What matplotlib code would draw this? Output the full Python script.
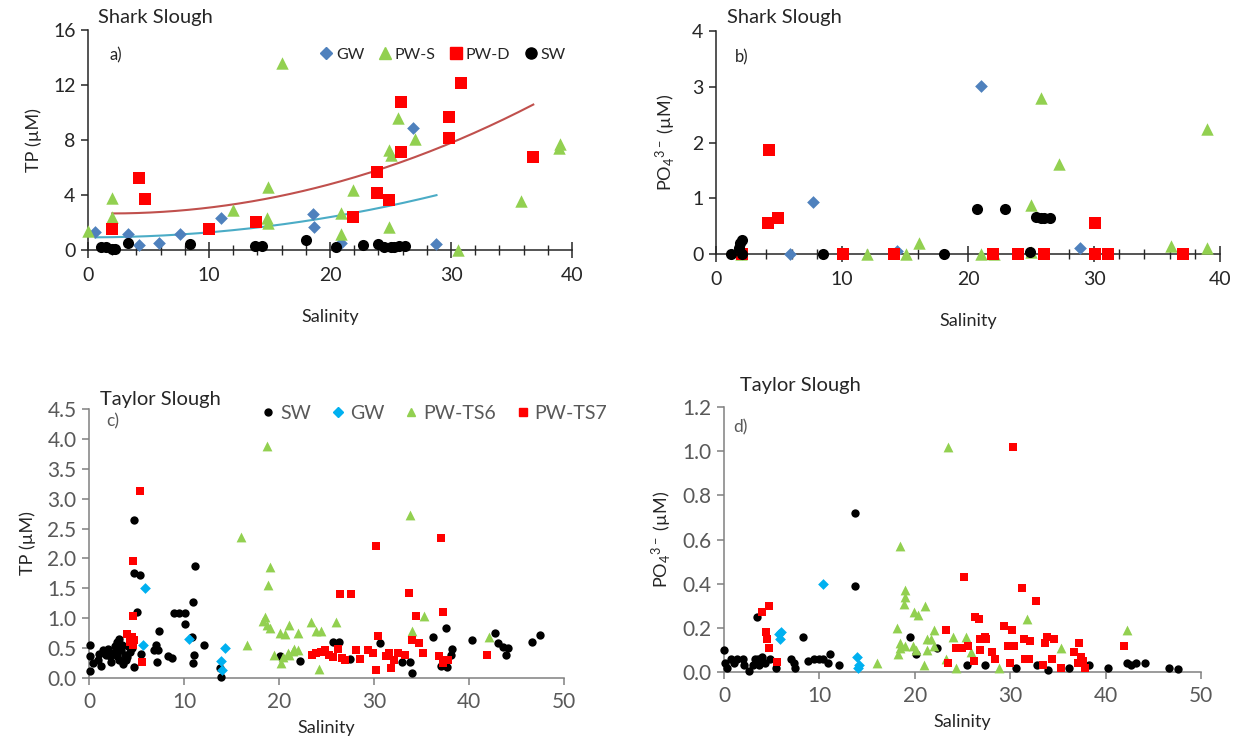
import numpy as np
import matplotlib
matplotlib.use("Agg")
import matplotlib.pyplot as plt
from matplotlib.ticker import MultipleLocator, FormatStrFormatter
from matplotlib.lines import Line2D

plt.rcParams['font.family'] = ['Lato', 'DejaVu Sans']
plt.rcParams['mathtext.default'] = 'regular'

# ---------------- Panel a: Shark Slough TP ----------------
a_gw_x = [0.6, 3.3, 4.2, 5.9, 7.6, 11.0, 18.6, 18.7, 20.9, 26.9, 28.8]
a_gw_y = [1.33, 1.14, 0.36, 0.48, 1.2, 2.35, 2.6, 1.7, 0.48, 8.85, 0.41]
a_pws_x = [0.0, 2.0, 2.0, 12.0, 14.9, 14.8, 14.9, 16.0, 20.9, 20.9, 21.9, 24.9, 24.9, 25.0, 25.6, 27.0, 30.6, 35.8, 38.9, 39.0]
a_pws_y = [1.4, 3.76, 2.4, 2.9, 4.6, 2.3, 1.95, 13.6, 2.67, 1.2, 4.4, 1.7, 7.27, 6.9, 9.58, 8.1, 0.0, 3.6, 7.4, 7.7]
a_pwd_x = [2.0, 4.2, 4.75, 10.0, 13.9, 21.9, 23.9, 23.9, 24.9, 25.9, 25.9, 29.8, 29.8, 30.85, 36.8]
a_pwd_y = [1.5, 5.26, 3.7, 1.5, 2.06, 2.38, 5.7, 4.17, 3.64, 7.15, 10.8, 9.65, 8.17, 12.12, 6.8]
a_sw_x = [1.1, 1.5, 2.0, 2.2, 3.3, 8.4, 13.8, 14.4, 18.0, 20.5, 22.7, 24.0, 24.5, 25.0, 25.3, 25.7, 26.2]
a_sw_y = [0.24, 0.2, 0.1, 0.1, 0.5, 0.41, 0.32, 0.32, 0.73, 0.24, 0.36, 0.41, 0.24, 0.2, 0.24, 0.32, 0.3]

# ---------------- Panel b: Shark Slough PO4 ----------------
b_gw_x = [5.9, 7.7, 14.4, 21.0, 28.9]
b_gw_y = [0.0, 0.93, 0.05, 3.01, 0.1]
b_pws_x = [2.0, 12.0, 15.1, 16.1, 21.0, 22.1, 25.0, 25.0, 25.8, 27.2, 36.1, 39.0, 39.0]
b_pws_y = [0.0, 0.0, 0.0, 0.19, 0.0, 0.0, 0.87, 0.04, 2.79, 1.62, 0.14, 2.25, 0.1]
b_pwd_x = [2.1, 4.1, 4.2, 4.9, 10.1, 14.1, 22.0, 24.0, 26.0, 30.1, 30.1, 31.1, 37.1]
b_pwd_y = [0.0, 0.56, 1.86, 0.64, 0.0, 0.0, 0.0, 0.0, 0.0, 0.56, 0.0, 0.0, 0.0]
b_sw_x = [1.2, 1.8, 1.9, 2.1, 2.1, 8.5, 18.1, 20.7, 22.9, 24.9, 25.4, 25.8, 26.0, 26.5]
b_sw_y = [0.0, 0.1, 0.19, 0.26, 0.0, 0.0, 0.0, 0.8, 0.8, 0.03, 0.67, 0.64, 0.64, 0.64]

# ---------------- Panel c: Taylor Slough TP ----------------
c_sw_x = [0.14, 0.14, 0.14, 0.4, 0.95, 1.0, 1.3, 1.5, 1.8, 2.0, 2.2, 2.35, 2.5, 2.7, 2.9, 2.95, 3.0,
          3.2, 3.2, 3.4, 3.5, 3.6, 3.75, 3.9, 4.0, 4.1, 4.3, 4.5, 4.7, 4.7, 4.7, 5.4, 5.0, 5.5, 6.8,
          7.1, 7.2, 7.4, 7.3, 8.3, 8.7, 8.9, 9.5, 10.1, 10.1, 10.8, 10.9, 11.2, 11.1, 10.9, 12.1,
          13.8, 13.9, 20.1, 22.2, 25.7, 26.3, 27.5, 30.6, 32.9, 33.8, 34.0, 36.2, 37.6, 38.2, 38.1,
          37.1, 37.7, 40.3, 42.7, 43.1, 43.6, 44.1, 43.9, 46.6, 47.5]
c_sw_y = [0.56, 0.36, 0.11, 0.25, 0.30, 0.40, 0.20, 0.47, 0.38, 0.48, 0.36, 0.27, 0.41, 0.53, 0.36, 0.61, 0.45,
          0.65, 0.30, 0.47, 0.55, 0.23, 0.39, 0.30, 0.35, 0.53, 0.44, 0.50, 0.18, 2.65, 1.75, 1.72, 1.10, 0.40, 0.47,
          0.55, 0.27, 0.78, 0.47, 0.37, 0.34, 1.08, 1.08, 1.08, 0.90, 0.69, 1.27, 1.87, 0.39, 0.25, 0.56,
          0.16, 0.02, 0.37, 0.29, 0.61, 0.61, 0.31, 0.59, 0.27, 0.26, 0.08, 0.68, 0.83, 0.48, 0.39,
          0.20, 0.19, 0.64, 0.75, 0.58, 0.52, 0.50, 0.39, 0.60, 0.72]
c_gw_x = [5.86, 5.7, 10.5, 14.3, 13.9, 14.0]
c_gw_y = [1.50, 0.55, 0.66, 0.50, 0.29, 0.13]
c_ts6_x = [18.7, 16.0, 19.0, 18.8, 18.5, 18.3, 18.7, 19.1, 16.6, 20.1, 20.6, 21.1, 20.4, 20.2, 20.9,
           21.5, 22.0, 23.4, 23.9, 24.4, 26.0, 21.1, 21.6, 22.0, 24.2, 35.3, 34.0, 42.1, 33.8, 19.5]
c_ts6_y = [3.88, 2.36, 1.85, 1.55, 1.02, 0.96, 0.88, 0.84, 0.55, 0.75, 0.74, 0.88, 0.35, 0.25, 0.41,
           0.46, 0.75, 0.93, 0.79, 0.79, 0.94, 0.39, 0.48, 0.47, 0.15, 1.03, 0.79, 0.69, 2.73, 0.39]
c_ts7_x = [5.4, 4.6, 4.6, 4.0, 4.5, 4.7, 4.6, 5.6, 4.3, 26.4, 27.6, 33.7, 34.4, 37.3, 30.25, 37.1, 30.4,
           23.5, 23.9, 24.4, 24.8, 25.3, 25.7, 26.2, 26.6, 26.9, 28.1, 28.5, 29.4, 29.9, 30.2, 31.3, 31.6,
           32.1, 32.5, 31.8, 33.3, 34.0, 34.7, 35.2, 36.8, 37.3, 37.8, 37.3, 41.9]
c_ts7_y = [3.12, 1.03, 1.95, 0.74, 0.68, 0.64, 0.55, 0.27, 0.61, 1.40, 1.40, 1.43, 1.03, 1.10, 2.21, 2.34, 0.70,
           0.39, 0.41, 0.44, 0.47, 0.39, 0.35, 0.48, 0.33, 0.30, 0.47, 0.31, 0.47, 0.41, 0.13, 0.36, 0.41,
           0.30, 0.41, 0.16, 0.39, 0.63, 0.59, 0.42, 0.36, 0.30, 0.30, 0.25, 0.39]

# ---------------- Panel d: Taylor Slough PO4 ----------------
d_sw_x = [0.04, 0.1, 0.3, 0.74, 1.1, 1.4, 2.0, 2.1, 2.6, 3.0, 3.2, 3.6, 3.7, 4.0, 4.3, 3.5, 4.8, 5.4,
          7.0, 7.3, 7.4, 8.3, 8.8, 9.4, 10.0, 10.4, 10.95, 11.1, 12.1, 13.7, 13.7, 19.5, 20.1, 22.3,
          25.5, 27.4, 30.6, 32.8, 34.0, 36.2, 38.3, 40.2, 42.2, 42.7, 43.2, 44.1, 46.6, 47.6]
d_sw_y = [0.10, 0.04, 0.02, 0.06, 0.04, 0.06, 0.06, 0.03, 0.005, 0.03, 0.06, 0.06, 0.03, 0.07, 0.04, 0.25, 0.06, 0.02,
          0.06, 0.04, 0.02, 0.16, 0.05, 0.06, 0.06, 0.06, 0.04, 0.08, 0.03, 0.72, 0.39, 0.16, 0.08, 0.11,
          0.03, 0.03, 0.02, 0.03, 0.01, 0.02, 0.03, 0.02, 0.04, 0.03, 0.04, 0.04, 0.02, 0.015]
d_gw_x = [10.4, 5.8, 5.85, 5.95, 13.9, 14.1, 14.0]
d_gw_y = [0.40, 0.17, 0.15, 0.18, 0.07, 0.03, 0.02]
d_ts6_x = [23.5, 18.4, 19.0, 19.0, 18.9, 18.1, 19.9, 21.1, 20.3, 18.5, 19.0, 18.2, 18.4, 19.8, 20.1, 21.3,
           22.0, 16.0, 21.0, 22.0, 21.3, 24.0, 25.4, 31.8, 35.3, 42.2, 21.7, 23.3, 24.3, 28.8, 25.9]
d_ts6_y = [1.02, 0.57, 0.37, 0.34, 0.31, 0.20, 0.27, 0.30, 0.26, 0.13, 0.12, 0.08, 0.11, 0.12, 0.10, 0.15,
           0.19, 0.04, 0.03, 0.12, 0.10, 0.16, 0.16, 0.24, 0.11, 0.19, 0.15, 0.06, 0.02, 0.02, 0.09]
d_ts7_x = [4.7, 4.0, 4.4, 4.5, 4.7, 5.6, 30.3, 25.2, 31.2, 32.7, 26.3, 26.7, 23.3, 29.4, 30.2, 24.3, 24.9,
           25.6, 26.8, 27.5, 26.8, 27.4, 28.1, 28.4, 29.8, 30.4, 31.4, 32.1, 33.9, 34.6, 33.7, 37.2, 36.7,
           37.4, 37.6, 37.8, 37.1, 34.4, 35.3, 33.4, 31.6, 32.0, 30.0, 26.2, 23.5, 41.9]
d_ts7_y = [0.30, 0.27, 0.18, 0.15, 0.11, 0.045, 1.02, 0.43, 0.38, 0.32, 0.25, 0.24, 0.19, 0.21, 0.19, 0.11, 0.11,
           0.12, 0.15, 0.15, 0.10, 0.16, 0.09, 0.06, 0.12, 0.12, 0.15, 0.14, 0.16, 0.15, 0.13, 0.13, 0.09,
           0.07, 0.05, 0.02, 0.04, 0.06, 0.02, 0.03, 0.06, 0.06, 0.04, 0.05, 0.04, 0.12]

# ---------------- styling ----------------
C_GW = '#4F81BD'
C_GW2 = '#00B0F0'
C_PWS = '#92D050'
C_PWD = '#FF0000'
C_SW = '#000000'
C_TREND_R = '#C0504D'
C_TREND_B = '#4BACC6'
GREY = '#595959'
DARK = '#262626'

W, H = 1239, 742
fig = plt.figure(figsize=(W / 100, H / 100), dpi=100)


def rect(l, r, t, b):
    return [l / W, 1 - b / H, (r - l) / W, (b - t) / H]


def ftext(x, y, s, **kw):
    fig.text(x / W, 1 - y / H, s, **kw)


def style_axes(ax, col, tick_col, fs, crossing):
    for sp in ['top', 'right']:
        ax.spines[sp].set_visible(False)
    for sp in ['left', 'bottom']:
        ax.spines[sp].set_color(col)
        ax.spines[sp].set_linewidth(1.1)
    ax.tick_params(axis='y', direction='out', length=5, width=1.1, color=col,
                   labelcolor=tick_col, labelsize=fs, pad=4)
    if crossing:
        ax.tick_params(axis='x', which='major', direction='inout', length=12, width=1.1,
                       color=col, labelcolor=tick_col, labelsize=fs, pad=6)
        ax.tick_params(axis='x', which='minor', direction='inout', length=7, width=1.0, color=col)
    else:
        ax.tick_params(axis='x', which='major', direction='out', length=5, width=1.1,
                       color=col, labelcolor=tick_col, labelsize=fs, pad=5)


# ---------- Panel a ----------
ax = fig.add_axes(rect(88, 572, 30, 250))
ax.set_xlim(0, 40)
ax.set_ylim(0, 16)
ax.xaxis.set_major_locator(MultipleLocator(10))
ax.xaxis.set_minor_locator(MultipleLocator(2))
ax.yaxis.set_major_locator(MultipleLocator(4))
style_axes(ax, DARK, DARK, 14, True)
# 2nd-order polynomial trend lines (Excel style) fitted to the GW and PW-D series
cb = np.polyfit(a_gw_x, a_gw_y, 2)
xx = np.linspace(min(a_gw_x), max(a_gw_x), 200)
ax.plot(xx, np.polyval(cb, xx), color=C_TREND_B, lw=1.5, zorder=2)
cr = np.polyfit(a_pwd_x, a_pwd_y, 2)
xx = np.linspace(min(a_pwd_x), max(a_pwd_x), 200)
ax.plot(xx, np.polyval(cr, xx), color=C_TREND_R, lw=1.5, zorder=2)
ax.scatter(a_gw_x, a_gw_y, marker='D', s=42, color=C_GW, lw=0, clip_on=False, zorder=3)
ax.scatter(a_pws_x, a_pws_y, marker='^', s=80, color=C_PWS, lw=0, clip_on=False, zorder=3)
ax.scatter(a_pwd_x, a_pwd_y, marker='s', s=64, color=C_PWD, lw=0, clip_on=False, zorder=4)
ax.scatter(a_sw_x, a_sw_y, marker='o', s=64, color=C_SW, lw=0, clip_on=False, zorder=5)
handles = [Line2D([], [], ls='', marker='D', ms=6, color=C_GW),
           Line2D([], [], ls='', marker='^', ms=9, color=C_PWS),
           Line2D([], [], ls='', marker='s', ms=8, color=C_PWD),
           Line2D([], [], ls='', marker='o', ms=8, color=C_SW)]
ax.legend(handles, ['GW', 'PW-S', 'PW-D', 'SW'], ncol=4, frameon=False,
          loc='center', bbox_to_anchor=((442 - 88) / 484, (250 - 55) / 220),
          handletextpad=0.1, columnspacing=0.8, handlelength=1.0, fontsize=11.5,
          labelcolor=DARK)
ax.text((110 - 88) / 484, (250 - 55) / 220, 'a)', transform=ax.transAxes,
        fontsize=12, color=DARK, va='center', ha='left')
ax.set_xlabel('Salinity', fontsize=13, color=DARK, labelpad=18)
ax.set_ylabel('TP (µM)', fontsize=13, color=DARK, labelpad=8)
ftext(98, 17, 'Shark Slough', fontsize=14.5, color=DARK, va='center', ha='left')

# ---------- Panel b ----------
ax = fig.add_axes(rect(716, 1220, 31, 254))
ax.set_xlim(0, 40)
ax.set_ylim(0, 4)
ax.xaxis.set_major_locator(MultipleLocator(10))
ax.xaxis.set_minor_locator(MultipleLocator(2))
ax.yaxis.set_major_locator(MultipleLocator(1))
style_axes(ax, DARK, DARK, 14, True)
ax.scatter(b_gw_x, b_gw_y, marker='D', s=42, color=C_GW, lw=0, clip_on=False, zorder=3)
ax.scatter(b_pws_x, b_pws_y, marker='^', s=80, color=C_PWS, lw=0, clip_on=False, zorder=3)
ax.scatter(b_pwd_x, b_pwd_y, marker='s', s=64, color=C_PWD, lw=0, clip_on=False, zorder=4)
ax.scatter(b_sw_x, b_sw_y, marker='o', s=64, color=C_SW, lw=0, clip_on=False, zorder=5)
ax.text((735 - 716) / 504, (254 - 57) / 223, 'b)', transform=ax.transAxes,
        fontsize=12, color=DARK, va='center', ha='left')
ax.set_xlabel('Salinity', fontsize=13, color=DARK, labelpad=18)
ax.set_ylabel('PO$_4$$^{3-}$ (µM)', fontsize=13, color=DARK, labelpad=10)
ftext(727, 17, 'Shark Slough', fontsize=14.5, color=DARK, va='center', ha='left')

# ---------- Panel c ----------
ax = fig.add_axes(rect(89, 564, 409, 678))
ax.set_xlim(0, 50)
ax.set_ylim(0, 4.5)
ax.xaxis.set_major_locator(MultipleLocator(10))
ax.yaxis.set_major_locator(MultipleLocator(0.5))
ax.yaxis.set_major_formatter(FormatStrFormatter('%.1f'))
style_axes(ax, '#808080', GREY, 15, False)
ax.scatter(c_sw_x, c_sw_y, marker='o', s=36, color=C_SW, lw=0, clip_on=False, zorder=3)
ax.scatter(c_gw_x, c_gw_y, marker='D', s=30, color=C_GW2, lw=0, clip_on=False, zorder=4)
ax.scatter(c_ts6_x, c_ts6_y, marker='^', s=50, color=C_PWS, lw=0, clip_on=False, zorder=3)
ax.scatter(c_ts7_x, c_ts7_y, marker='s', s=40, color=C_PWD, lw=0, clip_on=False, zorder=4)
handles = [Line2D([], [], ls='', marker='o', ms=5, color=C_SW),
           Line2D([], [], ls='', marker='D', ms=5, color=C_GW2),
           Line2D([], [], ls='', marker='^', ms=6, color=C_PWS),
           Line2D([], [], ls='', marker='s', ms=5.5, color=C_PWD)]
ax.legend(handles, ['SW', 'GW', 'PW-TS6', 'PW-TS7'], ncol=4, frameon=False,
          loc='center', bbox_to_anchor=((433 - 89) / 475, (678 - 413) / 269),
          handletextpad=0.1, columnspacing=0.9, handlelength=1.0, fontsize=14,
          labelcolor=GREY)
ax.text((106 - 89) / 475, (678 - 421) / 269, 'c)', transform=ax.transAxes,
        fontsize=12.5, color=GREY, va='center', ha='left')
ax.set_xlabel('Salinity', fontsize=13, color=DARK, labelpad=6)
ax.set_ylabel('TP (µM)', fontsize=13, color=DARK, labelpad=8)
ftext(100, 400, 'Taylor Slough', fontsize=14.5, color=DARK, va='center', ha='left')

# ---------- Panel d ----------
ax = fig.add_axes(rect(724, 1201, 407, 672))
ax.set_xlim(0, 50)
ax.set_ylim(0, 1.2)
ax.xaxis.set_major_locator(MultipleLocator(10))
ax.yaxis.set_major_locator(MultipleLocator(0.2))
ax.yaxis.set_major_formatter(FormatStrFormatter('%.1f'))
style_axes(ax, '#808080', GREY, 15, False)
ax.scatter(d_sw_x, d_sw_y, marker='o', s=36, color=C_SW, lw=0, clip_on=False, zorder=3)
ax.scatter(d_gw_x, d_gw_y, marker='D', s=30, color=C_GW2, lw=0, clip_on=False, zorder=4)
ax.scatter(d_ts6_x, d_ts6_y, marker='^', s=50, color=C_PWS, lw=0, clip_on=False, zorder=3)
ax.scatter(d_ts7_x, d_ts7_y, marker='s', s=40, color=C_PWD, lw=0, clip_on=False, zorder=4)
ax.text((733 - 724) / 477, (672 - 427) / 265, 'd)', transform=ax.transAxes,
        fontsize=12.5, color=GREY, va='center', ha='left')
ax.set_xlabel('Salinity', fontsize=13, color=DARK, labelpad=6)
ax.set_ylabel('PO$_4$$^{3-}$ (µM)', fontsize=13, color=DARK, labelpad=6)
ftext(740, 386, 'Taylor Slough', fontsize=14.5, color=DARK, va='center', ha='left')

fig.savefig('out.png', dpi=100)
